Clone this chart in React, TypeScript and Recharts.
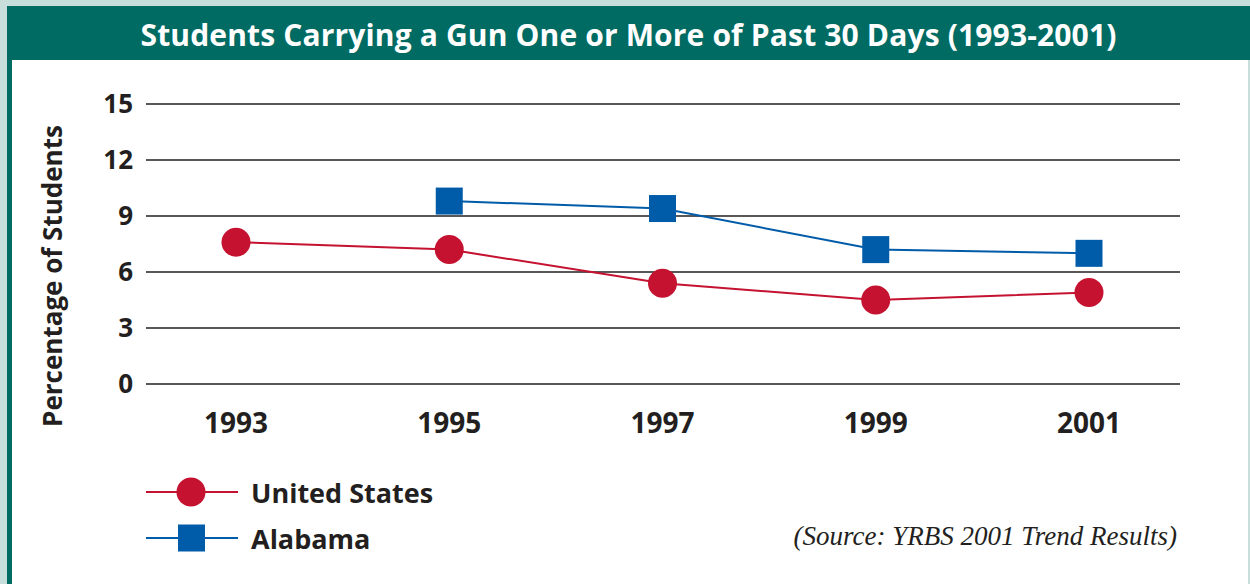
import { LineChart, Line, XAxis, YAxis, CartesianGrid, Label } from 'recharts';

const years = ['1993', '1995', '1997', '1999', '2001'];
const unitedStates = [7.6, 7.2, 5.4, 4.5, 4.9];
const alabama = [null, 9.8, 9.4, 7.2, 7.0];
const yTicks = [0, 3, 6, 9, 12, 15];

const TEAL = '#006b63';
const RED = '#c41230';
const BLUE = '#005ba9';
const FONT = '"Open Sans", "DejaVu Sans", sans-serif';

const data = years.map((year, i) => ({
    year,
    us: unitedStates[i],
    al: alabama[i],
}));

const legendItems = [
    { name: 'United States', color: RED, shape: 'circle' },
    { name: 'Alabama', color: BLUE, shape: 'square' },
];

const CircleDot = (props: any) => {
    const { cx, cy, index } = props;
    if (cx == null || cy == null) return <g key={`c${index}`} />;
    return <circle key={`c${index}`} cx={cx} cy={cy} r={14.5} fill={RED} />;
};

const SquareDot = (props: any) => {
    const { cx, cy, index, value } = props;
    if (cx == null || cy == null || value == null) return <g key={`s${index}`} />;
    return <rect key={`s${index}`} x={cx - 13.5} y={cy - 13.5} width={27} height={27} fill={BLUE} />;
};

const LegendBlock = () => (
    <div style={{ position: 'absolute', left: 146, top: 469, fontFamily: FONT }}>
        {legendItems.map((item) => (
            <div key={item.name} style={{ display: 'flex', alignItems: 'center', height: 46 }}>
                <svg width={105} height={34}>
                    <line x1={0} x2={92} y1={17} y2={17} stroke={item.color} strokeWidth={2} />
                    {item.shape === 'circle' ? (
                        <circle cx={45} cy={17} r={14.5} fill={item.color} />
                    ) : (
                        <rect x={32} y={3.5} width={27} height={27} fill={item.color} />
                    )}
                </svg>
                <span style={{ fontSize: 27, fontWeight: 700, color: '#231f20' }}>{item.name}</span>
            </div>
        ))}
    </div>
);

const App = () => {
    return (
        <div style={{ position: 'absolute', left: 0, top: 0, width: 1250, height: 584, background: '#c8dedb', overflow: 'hidden' }}>
            <div style={{ position: 'absolute', left: 7, top: 6, width: 1243, height: 54, background: TEAL }} />
            <div style={{ position: 'absolute', left: 7, top: 60, width: 5, height: 524, background: TEAL }} />
            <div style={{ position: 'absolute', left: 12, top: 60, width: 1236, height: 524, background: '#ffffff' }} />
            <div
                style={{
                    position: 'absolute',
                    left: 7,
                    top: 7,
                    width: 1243,
                    height: 54,
                    lineHeight: '56px',
                    textAlign: 'center',
                    color: '#ffffff',
                    fontFamily: FONT,
                    fontWeight: 700,
                    fontSize: 30,
                    letterSpacing: 0.15,
                }}
            >
                Students Carrying a Gun One or More of Past 30 Days (1993-2001)
            </div>
            <div style={{ position: 'absolute', left: 0, top: 0 }}>
                <LineChart width={1250} height={584} data={data} margin={{ top: 104, right: 70, bottom: 160, left: 86 }}>
                    <CartesianGrid vertical={false} stroke="#231f20" strokeWidth={1.5} />
                    <XAxis
                        dataKey="year"
                        axisLine={false}
                        tickLine={false}
                        height={40}
                        padding={{ left: 90, right: 91 }}
                        tickMargin={23}
                        tick={{ fill: '#231f20', fontSize: 28, fontWeight: 700, fontFamily: FONT }}
                    />
                    <YAxis
                        domain={[0, 15]}
                        ticks={yTicks}
                        axisLine={false}
                        tickLine={false}
                        width={60}
                        tickMargin={7}
                        tick={{ fill: '#231f20', fontSize: 26, fontWeight: 700, fontFamily: FONT }}
                    >
                        <Label
                            content={() => (
                                <text
                                    x={52}
                                    y={276}
                                    transform="rotate(-90 52 276)"
                                    textAnchor="middle"
                                    dominantBaseline="central"
                                    fill="#231f20"
                                    fontSize={26}
                                    fontWeight={700}
                                    fontFamily={FONT}
                                >
                                    Percentage of Students
                                </text>
                            )}
                        />
                    </YAxis>
                    <Line
                        dataKey="us"
                        stroke={RED}
                        strokeWidth={2}
                        dot={CircleDot}
                        activeDot={false}
                        isAnimationActive={false}
                    />
                    <Line
                        dataKey="al"
                        stroke={BLUE}
                        strokeWidth={2}
                        dot={SquareDot}
                        activeDot={false}
                        isAnimationActive={false}
                    />
                </LineChart>
            </div>
            <LegendBlock />
            <div
                style={{
                    position: 'absolute',
                    right: 73,
                    top: 521,
                    fontFamily: '"Liberation Serif", "DejaVu Serif", serif',
                    fontStyle: 'italic',
                    fontSize: 27,
                    color: '#231f20',
                }}
            >
                (Source: YRBS 2001 Trend Results)
            </div>
        </div>
    );
};

export default App;
